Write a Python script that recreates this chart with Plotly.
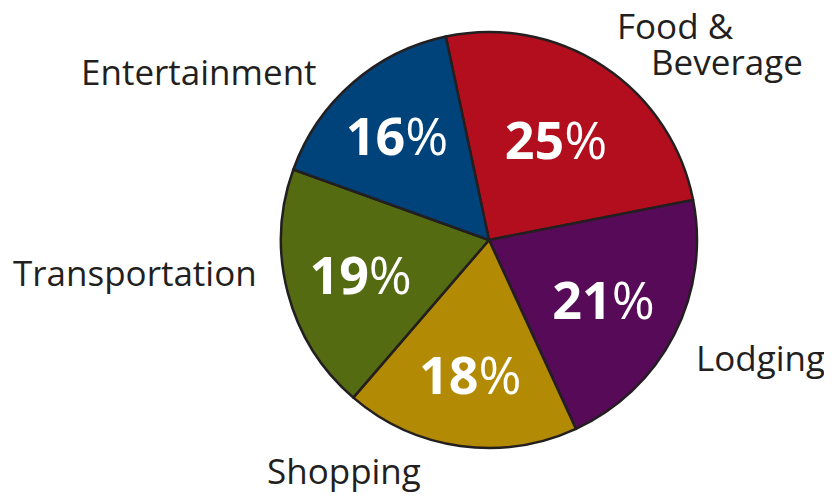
import plotly.graph_objects as go

categories = ["Food &amp; Beverage", "Lodging", "Shopping", "Transportation", "Entertainment"]
values = [25, 21, 18, 19, 16]
colors = ["#B20E1E", "#560A57", "#B38A04", "#556B12", "#00437A"]

# outside label text lines and their pixel centers (label placement)
label_lines = [
    ("Food &amp;", 675, 25),
    ("Beverage", 727, 61),
    ("Lodging", 760, 357),
    ("Shopping", 344, 470),
    ("Transportation", 135, 272),
    ("Entertainment", 199, 72),
]

W, H = 832, 497
OFF = 8  # page body margin offset
cx, cy, r = 489 - OFF, 240 - OFF, 208

fig = go.Figure(go.Pie(
    labels=categories,
    values=values,
    sort=False,
    direction="clockwise",
    rotation=-12,
    marker=dict(colors=colors, line=dict(color="#231F20", width=2.5)),
    texttemplate="<b>%{value}</b>%",
    textposition="inside",
    insidetextorientation="horizontal",
    insidetextfont=dict(family="Open Sans", size=52, color="white"),
    showlegend=False,
    hoverinfo="label+value",
    domain=dict(x=[(cx - r) / W, (cx + r) / W], y=[1 - (cy + r) / H, 1 - (cy - r) / H]),
))

for txt, px, py in label_lines:
    fig.add_annotation(
        x=(px - OFF) / W, y=1 - (py - OFF) / H, xref="paper", yref="paper",
        text=txt, showarrow=False, xanchor="center", yanchor="middle",
        font=dict(family="Open Sans", size=35, color="#231F20"),
    )

fig.update_layout(
    width=W, height=H,
    margin=dict(l=0, r=0, t=0, b=0),
    paper_bgcolor="white", plot_bgcolor="white",
)

fig.write_html("out.html")
